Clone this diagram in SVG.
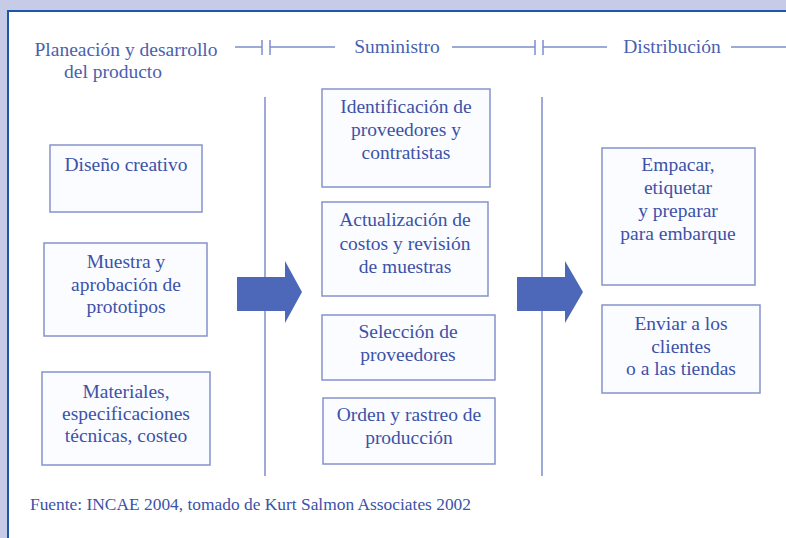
<svg xmlns="http://www.w3.org/2000/svg" width="786" height="538" viewBox="0 0 786 538">
<style>
.t{font-family:"Liberation Serif","DejaVu Serif",serif;font-size:19.5px;fill:#3c52a8;text-anchor:middle}
.h{font-family:"Liberation Serif","DejaVu Serif",serif;font-size:19.5px;fill:#4a5fb0;text-anchor:middle}
.box{fill:#fbfcff;stroke:#8592cc;stroke-width:1.5}
.ln{stroke:#7d8cc8;stroke-width:1.5;fill:none}
.arr{fill:#4d68b9}
</style>
<rect x="0" y="0" width="786" height="538" fill="#ffffff"/>
<rect x="0" y="0" width="786" height="10" fill="#c6cbe7"/>
<rect x="0" y="0" width="7" height="538" fill="#c6cbe7"/>
<line x1="7" y1="11" x2="786" y2="11" stroke="#1f57a6" stroke-width="2"/>
<line x1="8" y1="11" x2="8" y2="538" stroke="#1f57a6" stroke-width="2"/>

<g id="headers">
<text class="h" x="126" y="56">Planeación y desarrollo</text>
<text class="h" x="113" y="78">del producto</text>
<text class="h" x="397" y="53">Suministro</text>
<text class="h" x="672" y="53">Distribución</text>
</g>

<g id="connectors">
<line class="ln" x1="235" y1="47" x2="262" y2="47"/>
<line class="ln" x1="262" y1="40" x2="262" y2="55"/>
<line class="ln" x1="270" y1="40" x2="270" y2="55"/>
<line class="ln" x1="270" y1="47" x2="335" y2="47"/>
<line class="ln" x1="452" y1="47" x2="535" y2="47"/>
<line class="ln" x1="535" y1="40" x2="535" y2="55"/>
<line class="ln" x1="543" y1="40" x2="543" y2="55"/>
<line class="ln" x1="543" y1="47" x2="607" y2="47"/>
<line class="ln" x1="731" y1="47" x2="786" y2="47"/>
<line class="ln" x1="265" y1="97" x2="265" y2="476"/>
<line class="ln" x1="542" y1="97" x2="542" y2="476"/>
<polygon class="arr" points="237,277 285,277 285,261 302,292 285,323 285,311 237,311"/>
<polygon class="arr" points="517,277 565,277 565,261 583,292 565,323 565,311 517,311"/>
</g>

<g id="n1"><rect class="box" x="50" y="145" width="152" height="67"/>
<text class="t" x="126" y="171">Diseño creativo</text></g>

<g id="n2"><rect class="box" x="44" y="243" width="163" height="93"/>
<text class="t" x="126" y="268">Muestra y</text>
<text class="t" x="126" y="291">aprobación de</text>
<text class="t" x="126" y="313">prototipos</text></g>

<g id="n3"><rect class="box" x="42" y="372" width="168" height="93"/>
<text class="t" x="126" y="398">Materiales,</text>
<text class="t" x="126" y="420">especificaciones</text>
<text class="t" x="126" y="442">técnicas, costeo</text></g>

<g id="n4"><rect class="box" x="322" y="89" width="168" height="98"/>
<text class="t" x="406" y="113">Identificación de</text>
<text class="t" x="406" y="136">proveedores y</text>
<text class="t" x="406" y="159">contratistas</text></g>

<g id="n5"><rect class="box" x="322" y="202" width="166" height="94"/>
<text class="t" x="405" y="226">Actualización de</text>
<text class="t" x="405" y="250">costos y revisión</text>
<text class="t" x="405" y="273">de muestras</text></g>

<g id="n6"><rect class="box" x="322" y="315" width="173" height="65"/>
<text class="t" x="408" y="338">Selección de</text>
<text class="t" x="408" y="361">proveedores</text></g>

<g id="n7"><rect class="box" x="323" y="398" width="172" height="66"/>
<text class="t" x="409" y="421">Orden y rastreo de</text>
<text class="t" x="409" y="444">producción</text></g>

<g id="n8"><rect class="box" x="602" y="148" width="153" height="137"/>
<text class="t" x="678" y="171">Empacar,</text>
<text class="t" x="678" y="194">etiquetar</text>
<text class="t" x="678" y="217">y preparar</text>
<text class="t" x="678" y="240">para embarque</text></g>

<g id="n9"><rect class="box" x="602" y="305" width="158" height="88"/>
<text class="t" x="681" y="330">Enviar a los</text>
<text class="t" x="681" y="353">clientes</text>
<text class="t" x="681" y="375">o a las tiendas</text></g>

<text x="30" y="510" style="font-family:'Liberation Serif','DejaVu Serif',serif;font-size:17.4px;fill:#3c52a8">Fuente: INCAE 2004, tomado de Kurt Salmon Associates 2002</text>
</svg>
